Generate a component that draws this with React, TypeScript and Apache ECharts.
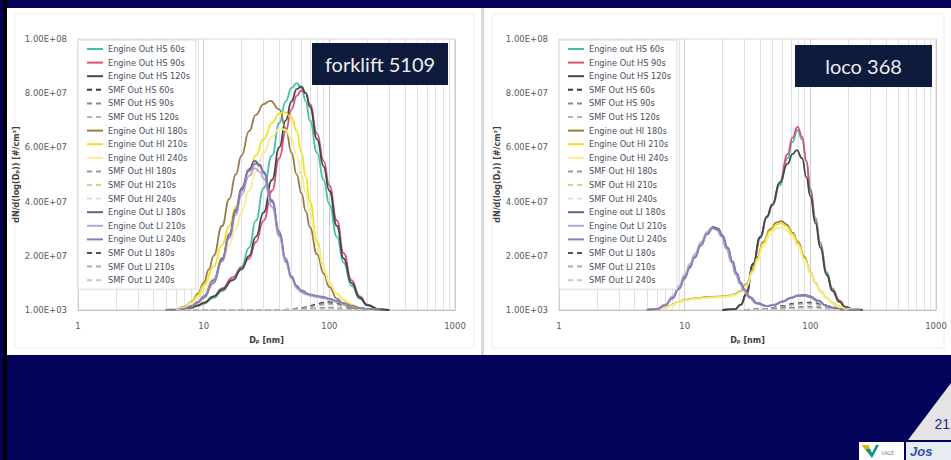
import { useEffect, useRef } from 'react';
import * as echarts from 'echarts';

type Pt = [number, number];

// Number size distributions: [mobility diameter (nm), dN/dlogDp in 10^6 #/cm³]

const FORKLIFT_NAMES = [
  'Engine Out HS 60s', 'Engine Out HS 90s', 'Engine Out HS 120s',
  'SMF Out HS 60s', 'SMF Out HS 90s', 'SMF Out HS 120s',
  'Engine Out HI 180s', 'Engine Out HI 210s', 'Engine Out HI 240s',
  'SMF Out HI 180s', 'SMF Out HI 210s', 'SMF Out HI 240s',
  'Engine Out LI 180s', 'Engine Out LI 210s', 'Engine Out LI 240s',
  'SMF Out LI 180s', 'SMF Out LI 210s', 'SMF Out LI 240s',
];

const LOCO_NAMES = [
  'Engine out HS 60s', 'Engine Out HS 90s', 'Engine Out HS 120s',
  'SMF Out HS 60s', 'SMF Out HS 90s', 'SMF Out HS 120s',
  'Engine out HI 180s', 'Engine Out HI 210s', 'Engine Out HI 240s',
  'SMF Out HI 180s', 'SMF Out HI 210s', 'SMF Out HI 240s',
  'Engine out LI 180s', 'Engine Out LI 210s', 'Engine Out LI 240s',
  'SMF Out LI 180s', 'SMF Out LI 210s', 'SMF Out LI 240s',
];

const SERIES_COLORS = [
  '#45bfa5', '#e0506e', '#3f4a44',
  '#3a3a3a', '#8a8a8a', '#b4b4b4',
  '#9a7a48', '#f0e020', '#f5ee90',
  '#9a9a86', '#d6d090', '#e4e2b8',
  '#6a5c8c', '#b4a6d8', '#8a80b0',
  '#50505e', '#a8a8b8', '#c6c6d0',
];

const SERIES_DASHED = [
  false, false, false, true, true, true,
  false, false, false, true, true, true,
  false, false, false, true, true, true,
];

const Y_TICKS = [0.001, 20, 40, 60, 80, 100];
const MINOR_GRID_D = [2, 3, 4, 5, 6, 7, 8, 9, 20, 30, 40, 50, 60, 70, 80, 90, 200, 300, 400, 500, 600, 700, 800, 900];

// ---- forklift 5109 ----
const fkHS60: Pt[] = [[6, 0], [7, 0.3], [8, 0.8], [9, 1.5], [10, 2.3], [12, 4.5], [14, 7], [17, 11], [20, 16], [23, 23], [26, 33], [30, 45], [35, 57], [40, 69], [45, 77], [50, 82], [55, 83.7], [60, 82], [65, 77], [70, 70], [80, 58], [90, 48], [100, 39], [115, 27], [130, 17.5], [150, 9], [175, 4.2], [200, 1.7], [250, 0.2], [300, 0]];
const fkHS90: Pt[] = [[6, 0], [7, 0.3], [8, 0.9], [9, 1.6], [10, 2.5], [12, 5], [14, 8], [17, 12], [20, 15.5], [23, 19], [26, 25], [30, 33], [35, 44], [40, 56], [45, 66], [50, 74], [55, 79], [60, 81], [65, 80], [70, 76], [80, 65], [90, 55], [100, 46], [115, 33], [130, 21], [150, 11], [175, 5], [200, 2], [250, 0.2], [300, 0]];
const fkHS120: Pt[] = [[6, 0], [7, 0.4], [8, 1], [9, 1.7], [10, 2.6], [12, 5], [14, 7.5], [17, 11], [20, 15], [23, 20], [26, 27], [30, 36], [35, 48], [40, 60], [45, 70], [50, 77], [55, 81.5], [60, 82.4], [65, 80], [70, 75], [80, 63], [90, 53], [100, 44], [115, 31], [130, 19], [150, 10], [175, 4.5], [200, 1.8], [250, 0.2], [300, 0]];
const fkSmfHS60: Pt[] = [[6, 0], [40, 0], [50, 0.3], [60, 0.8], [70, 1.5], [80, 2.2], [90, 2.8], [100, 3], [115, 2.6], [130, 1.8], [150, 0.9], [175, 0.3], [200, 0]];
const fkSmfHS90: Pt[] = [[6, 0], [40, 0], [50, 0.2], [60, 0.6], [70, 1.2], [80, 1.8], [90, 2.3], [100, 2.5], [115, 2.2], [130, 1.5], [150, 0.8], [175, 0.3], [200, 0]];
const fkSmfHS120: Pt[] = [[6, 0], [40, 0], [50, 0.2], [60, 0.5], [70, 1], [80, 1.5], [90, 1.9], [100, 2.1], [115, 1.8], [130, 1.2], [150, 0.6], [175, 0.2], [200, 0]];
const fkHI180: Pt[] = [[5, 0], [6, 0.3], [7, 1.2], [8, 3], [9, 6], [10, 10], [11, 15], [12, 20], [14, 31], [16, 41], [18, 50], [20, 57], [23, 66], [26, 72], [30, 76], [34, 77.2], [40, 74], [45, 67], [50, 58], [55, 50], [60, 43], [65, 36.5], [70, 30.5], [80, 20.5], [90, 13.5], [100, 8.5], [115, 4.2], [130, 2], [150, 0.8], [175, 0.3], [200, 0]];
const fkHI210: Pt[] = [[5, 0], [6, 0.2], [7, 1], [8, 2.8], [9, 5.5], [10, 9], [12, 16], [14, 24], [16, 31], [18, 38], [20, 44], [23, 51], [26, 57], [30, 63], [35, 69], [40, 72.5], [44, 73], [50, 71], [55, 66], [60, 58], [65, 49], [70, 40], [80, 25.5], [90, 15.5], [100, 10], [115, 6], [130, 3.8], [150, 2], [175, 0.6], [200, 0.2], [250, 0]];
const fkHI240: Pt[] = [[5, 0], [6, 0.2], [7, 1], [8, 2.5], [9, 4.5], [10, 7], [12, 12], [14, 18], [16, 24], [18, 30], [20, 36], [23, 44], [26, 51], [30, 58], [35, 64], [40, 67], [45, 66.5], [50, 63], [55, 57], [60, 50], [65, 43], [70, 36], [80, 24], [90, 15.5], [100, 10], [115, 6], [130, 3.5], [150, 1.5], [175, 0.5], [200, 0.2], [250, 0]];
const fkSmfHI180: Pt[] = [[6, 0], [50, 0], [70, 0.4], [90, 0.8], [110, 0.9], [130, 0.6], [160, 0.2], [200, 0]];
const fkSmfHI210: Pt[] = [[6, 0], [50, 0], [70, 0.3], [90, 0.6], [110, 0.7], [130, 0.5], [160, 0.2], [200, 0]];
const fkSmfHI240: Pt[] = [[6, 0], [50, 0], [70, 0.3], [90, 0.5], [110, 0.6], [130, 0.4], [160, 0.1], [200, 0]];
const fkLI180: Pt[] = [[5, 0], [6, 0], [7, 0.5], [8, 1.5], [9, 3], [10, 5], [12, 11], [14, 19], [16, 28], [18, 37], [20, 45], [23, 52], [25.5, 55], [28, 53.5], [30, 51], [35, 40], [40, 28], [45, 18], [50, 12], [55, 8.5], [60, 7], [65, 6], [70, 5.5], [80, 5], [90, 4.6], [100, 4], [115, 3.3], [130, 2.5], [150, 1.5], [175, 0.8], [200, 0.4], [250, 0]];
const fkLI210: Pt[] = [[5, 0], [6, 0], [7, 0.5], [8, 1.4], [9, 2.8], [10, 4.7], [12, 10.5], [14, 18], [16, 26.5], [18, 35], [20, 42.5], [23, 49.5], [25.5, 52.3], [28, 51], [30, 48.5], [35, 38], [40, 27], [45, 17.5], [50, 11.5], [55, 8], [60, 6.5], [65, 5.8], [70, 5.3], [80, 4.8], [90, 4.4], [100, 3.8], [115, 3], [130, 2.2], [150, 1.3], [175, 0.7], [200, 0.3], [250, 0]];
const fkLI240: Pt[] = [[5, 0], [6, 0], [7, 0.4], [8, 1.3], [9, 2.7], [10, 4.5], [12, 10], [14, 18], [16, 27], [18, 36], [20, 44], [23, 51.5], [26, 54], [28, 53], [30, 50.5], [35, 40.5], [40, 29], [45, 19], [50, 12.5], [55, 9], [60, 7.2], [70, 5.8], [80, 5.2], [90, 4.8], [100, 4.2], [115, 3.4], [130, 2.5], [150, 1.5], [175, 0.8], [200, 0.4], [250, 0]];
const fkSmfLI180: Pt[] = [[6, 0], [40, 0], [60, 0.3], [80, 0.6], [100, 0.7], [125, 0.5], [160, 0.2], [200, 0]];
const fkSmfLI210: Pt[] = [[6, 0], [40, 0], [60, 0.2], [80, 0.5], [100, 0.6], [125, 0.4], [160, 0.1], [200, 0]];
const fkSmfLI240: Pt[] = [[6, 0], [40, 0], [60, 0.2], [80, 0.4], [100, 0.5], [125, 0.3], [160, 0.1], [200, 0]];

// ---- loco 368 ----
const lcHS60: Pt[] = [[20, 0], [25, 0.3], [28, 2], [31, 6], [35, 16.5], [40, 26.5], [45, 34], [50, 38.5], [57, 46], [66, 56], [72, 62], [79, 66.4], [86, 63], [93, 55], [100, 45], [110, 34], [120, 25], [135, 14], [150, 8], [170, 3.5], [190, 1.2], [220, 0.2], [260, 0]];
const lcHS90: Pt[] = [[20, 0], [25, 0.3], [28, 2], [31, 6], [35, 17], [40, 27], [45, 34.5], [50, 39], [57, 47], [66, 57.5], [72, 63.5], [79, 67.6], [86, 64], [93, 55], [100, 44], [110, 33], [120, 24], [135, 13], [150, 7.5], [170, 3.5], [190, 1.2], [220, 0.2], [260, 0]];
const lcHS120: Pt[] = [[20, 0], [25, 0.3], [28, 2], [31, 6], [35, 17], [40, 27], [45, 34.4], [50, 39], [57, 47], [66, 54], [72, 57.5], [78, 59], [86, 56], [93, 49], [100, 42], [110, 32], [120, 23], [135, 13], [150, 7], [170, 3], [190, 1], [220, 0.2], [260, 0]];
const lcSmfHS60: Pt[] = [[30, 0], [45, 0.5], [60, 1.5], [75, 2.4], [90, 2.8], [105, 2.7], [125, 2], [150, 1], [180, 0.3], [220, 0]];
const lcSmfHS90: Pt[] = [[30, 0], [45, 0.4], [60, 1.3], [75, 2.1], [90, 2.5], [105, 2.4], [125, 1.8], [150, 0.9], [180, 0.3], [220, 0]];
const lcSmfHS120: Pt[] = [[30, 0], [45, 0.3], [60, 1.1], [75, 1.9], [90, 2.3], [105, 2.2], [125, 1.6], [150, 0.8], [180, 0.2], [220, 0]];
const lcHI180: Pt[] = [[5, 0], [6, 0.3], [7, 1], [8, 2], [9, 3], [10, 3.7], [12, 4.3], [15, 4.7], [18, 4.9], [22, 5.2], [25, 5.8], [28, 7], [31, 9.5], [35, 15], [38, 19.5], [42, 25], [48, 29.8], [54, 32.3], [59, 32.8], [65, 31.5], [72, 28.5], [80, 25], [90, 19.5], [100, 14], [110, 10], [120, 7], [135, 4.5], [150, 2.5], [172, 1.1], [200, 0.3], [240, 0]];
const lcHI210: Pt[] = [[5, 0], [6, 0.3], [7, 1], [8, 2], [9, 3], [10, 3.6], [12, 4.2], [15, 4.6], [18, 4.8], [22, 5.1], [25, 5.7], [28, 6.8], [31, 9.2], [35, 14.5], [38, 19], [42, 24.5], [48, 29.2], [54, 31.6], [59, 32], [65, 30.8], [72, 28], [80, 24.5], [90, 19], [100, 14], [110, 10], [120, 7], [135, 4.5], [150, 2.5], [172, 1.1], [200, 0.3], [240, 0]];
const lcHI240: Pt[] = [[5, 0], [6, 0.3], [7, 0.9], [8, 1.9], [9, 2.8], [10, 3.4], [12, 4], [15, 4.4], [18, 4.6], [22, 4.9], [25, 5.4], [28, 6.5], [31, 8.8], [35, 13.8], [38, 18], [42, 23.2], [48, 27.8], [54, 30.1], [59, 30.5], [65, 29.4], [72, 26.8], [80, 23.5], [90, 18.3], [100, 13.5], [110, 9.6], [120, 6.8], [135, 4.4], [150, 2.4], [172, 1], [200, 0.3], [240, 0]];
const lcSmfHI180: Pt[] = [[30, 0], [50, 0.3], [70, 0.9], [90, 1.3], [110, 1.2], [135, 0.7], [170, 0.2], [210, 0]];
const lcSmfHI210: Pt[] = [[30, 0], [50, 0.2], [70, 0.7], [90, 1.1], [110, 1], [135, 0.6], [170, 0.2], [210, 0]];
const lcSmfHI240: Pt[] = [[30, 0], [50, 0.2], [70, 0.6], [90, 0.9], [110, 0.9], [135, 0.5], [170, 0.1], [210, 0]];
const lcLI180: Pt[] = [[5, 0], [6, 0.3], [7, 1.8], [8, 4.5], [9, 8], [10, 12], [11, 16], [12, 19.5], [13.5, 24], [15, 28], [16.8, 30.7], [18.5, 30], [20, 27.5], [22, 23], [24, 18], [26, 13.5], [28, 10], [30, 7.5], [33, 4.8], [38, 2.5], [45, 1.5], [52, 2], [60, 3.2], [70, 4.6], [80, 5.4], [90, 5.6], [100, 5], [115, 3.5], [135, 1.5], [160, 0.5], [190, 0], [250, 0]];
const lcLI210: Pt[] = [[5, 0], [6, 0.4], [7, 2.1], [8, 5], [9, 8.8], [10, 13], [11, 17], [12, 20.5], [13.5, 25], [15, 28.7], [16.3, 30.4], [18, 29.6], [19.5, 27.2], [21.5, 22.6], [23.5, 17.6], [25.5, 13], [27.5, 9.6], [29.5, 7.2], [32.5, 4.6], [37, 2.4], [44, 1.5], [52, 1.9], [60, 3], [70, 4.4], [80, 5.2], [90, 5.3], [100, 4.8], [115, 3.3], [135, 1.4], [160, 0.4], [190, 0], [250, 0]];
const lcLI240: Pt[] = [[5, 0], [6, 0.3], [7, 1.7], [8, 4.3], [9, 7.7], [10, 11.6], [11, 15.6], [12, 19.2], [13.5, 23.8], [15, 27.8], [16.8, 30.2], [18.5, 29.6], [20, 27.2], [22, 22.8], [24, 17.9], [26, 13.4], [28, 9.9], [30, 7.4], [33, 4.7], [38, 2.4], [45, 1.4], [52, 1.9], [60, 3], [70, 4.4], [80, 5.2], [90, 5.3], [100, 4.8], [115, 3.3], [135, 1.4], [160, 0.4], [190, 0], [250, 0]];
const lcSmfLI180: Pt[] = [[30, 0], [50, 0.3], [70, 0.8], [90, 1.1], [110, 1], [135, 0.6], [170, 0.2], [210, 0]];
const lcSmfLI210: Pt[] = [[30, 0], [50, 0.2], [70, 0.6], [90, 0.9], [110, 0.8], [135, 0.5], [170, 0.1], [210, 0]];
const lcSmfLI240: Pt[] = [[30, 0], [50, 0.2], [70, 0.5], [90, 0.8], [110, 0.7], [135, 0.4], [170, 0.1], [210, 0]];

const FORKLIFT_DATA = [
  fkHS60, fkHS90, fkHS120, fkSmfHS60, fkSmfHS90, fkSmfHS120,
  fkHI180, fkHI210, fkHI240, fkSmfHI180, fkSmfHI210, fkSmfHI240,
  fkLI180, fkLI210, fkLI240, fkSmfLI180, fkSmfLI210, fkSmfLI240,
];
const LOCO_DATA = [
  lcHS60, lcHS90, lcHS120, lcSmfHS60, lcSmfHS90, lcSmfHS120,
  lcHI180, lcHI210, lcHI240, lcSmfHI180, lcSmfHI210, lcSmfHI240,
  lcLI180, lcLI210, lcLI240, lcSmfLI180, lcSmfLI210, lcSmfLI240,
];

const NAVY = '#03035a';
const BOX = '#0e1b3d';
const FONT = 'Lato, "Liberation Sans", sans-serif';
const SMALL_FONT = '"DejaVu Sans", sans-serif';

// 2.00E+07 style labels; axis values are in 10^6 #/cm³
function sciLabel(v: number): string {
  const n = v * 1e6;
  const e = Math.floor(Math.log10(n) + 1e-9);
  const m = n / Math.pow(10, e);
  return m.toFixed(2) + 'E+' + String(e).padStart(2, '0');
}

const PANELS = [
  { names: FORKLIFT_NAMES, data: FORKLIFT_DATA, left: 78, title: 'forklift 5109', box: [312, 43, 136, 42] },
  { names: LOCO_NAMES, data: LOCO_DATA, left: 559, title: 'loco 368', box: [795, 45, 137, 42] },
];

function buildOption(): any {
  const grid: any[] = [];
  const xAxis: any[] = [];
  const yAxis: any[] = [];
  const legend: any[] = [];
  const series: any[] = [];
  const graphic: any[] = [
    { type: 'rect', silent: true, z: -20, shape: { x: 0, y: 0, width: 951, height: 460 }, style: { fill: NAVY } },
    { type: 'rect', silent: true, z: -19, shape: { x: 3, y: 0, width: 4, height: 460 }, style: { fill: '#000' } },
    { type: 'rect', silent: true, z: -19, shape: { x: 7, y: 8, width: 474, height: 347 }, style: { fill: '#fff' } },
    { type: 'rect', silent: true, z: -19, shape: { x: 481, y: 8, width: 3, height: 347 }, style: { fill: '#d8d8d8' } },
    { type: 'rect', silent: true, z: -19, shape: { x: 484, y: 8, width: 467, height: 347 }, style: { fill: '#fff' } },
    { type: 'rect', silent: true, z: -18, shape: { x: 15, y: 14, width: 459, height: 334 }, style: { fill: 'none', stroke: '#eeeeee', lineWidth: 1 } },
    { type: 'rect', silent: true, z: -18, shape: { x: 492, y: 14, width: 452, height: 334 }, style: { fill: 'none', stroke: '#eeeeee', lineWidth: 1 } },
    // page corner
    { type: 'polygon', silent: true, z: 10, shape: { points: [[908, 440], [951, 383], [951, 440]] }, style: { fill: '#e4e4e4' } },
    { type: 'text', silent: true, z: 11, x: 950, y: 424, style: { text: '21', fontSize: 14, fill: '#1c2a8a', fontFamily: '"Liberation Sans", Arial', align: 'right', verticalAlign: 'middle' } },
    { type: 'rect', silent: true, z: 10, shape: { x: 859, y: 442, width: 45, height: 18 }, style: { fill: '#ffffff' } },
    { type: 'polygon', silent: true, z: 11, shape: { points: [[862, 445], [868, 445], [872, 453], [876, 445], [879, 445], [872, 458]] }, style: { fill: '#0f8f7f' } },
    { type: 'polygon', silent: true, z: 12, shape: { points: [[862, 445], [868, 445], [870, 449], [864.5, 449]] }, style: { fill: '#e8b800' } },
    { type: 'text', silent: true, z: 11, x: 881, y: 453, style: { text: 'VALE', fontSize: 5.5, fill: '#7a7a7a', fontFamily: FONT, verticalAlign: 'middle' } },
    { type: 'rect', silent: true, z: 10, shape: { x: 906, y: 442, width: 45, height: 18 }, style: { fill: '#e6ebf4' } },
    { type: 'text', silent: true, z: 11, x: 910, y: 451, style: { text: 'Jos', fontSize: 13, fontStyle: 'italic', fontWeight: 'bold', fill: '#3352a0', fontFamily: '"Liberation Sans", Arial', verticalAlign: 'middle' } },
  ];

  PANELS.forEach((p, i) => {
    grid.push({ left: p.left, top: 39, width: 377, height: 271, show: true, borderColor: '#d9d9d9', borderWidth: 1, backgroundColor: 'transparent' });
    xAxis.push({
      type: 'log', gridIndex: i, logBase: 10, min: 1, max: 1000,
      axisLine: { show: true, lineStyle: { color: '#bfbfbf', width: 1 } },
      axisTick: { show: false },
      axisLabel: { color: '#595959', fontSize: 8.5, margin: 11, fontFamily: SMALL_FONT, formatter: (v: number) => String(Math.round(v)) },
      splitLine: { show: true, lineStyle: { color: '#cccccc', width: 1 } },
      name: 'Dₚ [nm]', nameLocation: 'middle', nameGap: 26,
      nameTextStyle: { color: '#404040', fontSize: 8, fontWeight: 'bold', fontFamily: SMALL_FONT },
    });
    yAxis.push({
      type: 'value', gridIndex: i, min: 0.001, max: 100,
      axisLine: { show: false }, axisTick: { show: false }, splitLine: { show: false },
      axisLabel: { customValues: Y_TICKS, formatter: sciLabel, color: '#595959', fontSize: 8.5, margin: 11, fontFamily: SMALL_FONT },
      name: 'dN/d(log(Dₚ)) [#/cm³]', nameLocation: 'middle', nameGap: 57, nameRotate: 90,
      nameTextStyle: { color: '#404040', fontSize: 8, fontWeight: 'bold', fontFamily: SMALL_FONT },
    });
    legend.push({
      orient: 'vertical', left: p.left, top: 40, data: p.names, selectedMode: false, z: 10,
      itemWidth: 16, itemHeight: 8, itemGap: 3.6, padding: [4, 6, 4, 8],
      itemStyle: { opacity: 0 },
      backgroundColor: '#ffffff', borderColor: '#d9d9d9', borderWidth: 1,
      textStyle: { fontSize: 8.2, lineHeight: 10, color: '#4a4e5c', fontFamily: SMALL_FONT },
    });
    // light minor gridlines at 2..9 of each decade, kept beneath the curves and legend
    series.push({
      type: 'line', name: 'minor-grid-' + i, xAxisIndex: i, yAxisIndex: i, data: [], silent: true, z: 1,
      markLine: {
        z: 1, silent: true, symbol: 'none', animation: false, label: { show: false },
        lineStyle: { color: '#e0e0e0', width: 1, type: 'solid' },
        emphasis: { disabled: true },
        data: MINOR_GRID_D.map((d) => ({ xAxis: d })),
      },
    });
    p.names.forEach((name, k) => {
      series.push({
        type: 'line', name, xAxisIndex: i, yAxisIndex: i, data: p.data[k],
        smooth: 0.5, smoothMonotone: 'x', symbol: 'none', showSymbol: false,
        lineStyle: { color: SERIES_COLORS[k], width: SERIES_DASHED[k] ? 1.4 : 1.8, type: SERIES_DASHED[k] ? [5, 4] : 'solid' },
        itemStyle: { color: SERIES_COLORS[k] },
        emphasis: { disabled: true }, z: 3,
      });
    });
    const [bx, by, bw, bh] = p.box;
    graphic.push({ type: 'rect', silent: true, z: 20, shape: { x: bx, y: by, width: bw, height: bh }, style: { fill: BOX } });
    graphic.push({ type: 'text', silent: true, z: 21, x: bx + bw / 2, y: by + bh / 2, style: { text: p.title, fontSize: 20, fill: '#eeeeee', fontFamily: FONT, align: 'center', verticalAlign: 'middle' } });
  });

  return { animation: false, backgroundColor: NAVY, grid, xAxis, yAxis, legend, series, graphic, tooltip: { show: false } };
}

export default function App() {
  const ref = useRef<HTMLDivElement>(null);
  useEffect(() => {
    document.body.style.margin = '0';
    if (!ref.current) return;
    const chart = echarts.init(ref.current, null, { renderer: 'svg' });
    chart.setOption(buildOption());
    return () => chart.dispose();
  }, []);
  return <div ref={ref} style={{ position: 'fixed', left: 0, top: 0, width: 951, height: 460 }} />;
}
